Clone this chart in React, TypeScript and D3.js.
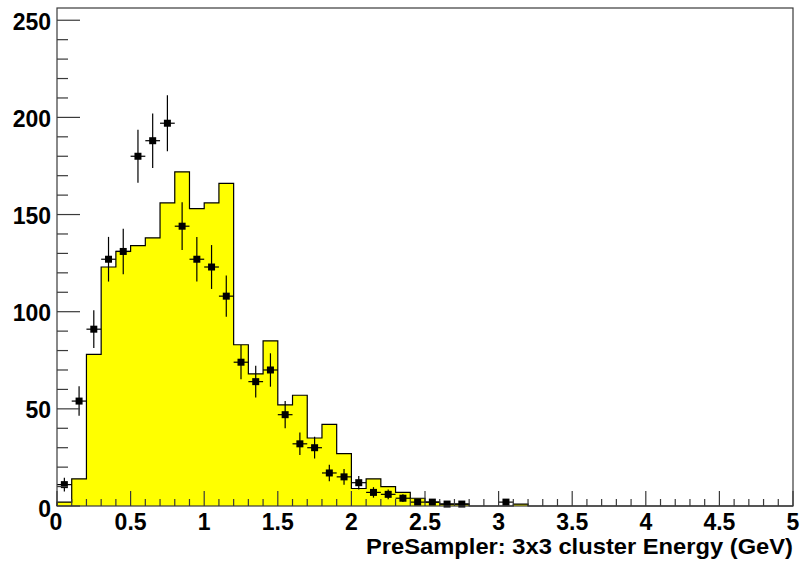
import React from "react";
import * as d3 from "d3";

const binEdgesStart = 0;
const binWidth = 0.1;
// Histogram (yellow) bin contents, bins of 0.1 GeV starting at 0
const histValues = [
  2, 14, 78, 123, 131, 134, 138, 156, 172, 153,
  156, 166, 83, 68, 85, 52, 57, 35, 42, 27,
  9, 14, 10, 7, 4, 2, 1, 1, 0, 0,
  0, 1, 0, 0, 0, 0, 0, 0, 0, 0,
  0, 0, 0, 0, 0, 0, 0, 0, 0, 0,
];
// Data points (black markers) at bin centres
const pointX = [
  0.05, 0.15, 0.25, 0.35, 0.45, 0.55, 0.65, 0.75, 0.85, 0.95,
  1.05, 1.15, 1.25, 1.35, 1.45, 1.55, 1.65, 1.75, 1.85, 1.95,
  2.05, 2.15, 2.25, 2.35, 2.45, 2.55, 2.65, 2.75, 3.05,
];
const pointY = [
  11, 54, 91, 127, 131, 180, 188, 197, 144, 127,
  123, 108, 74, 64, 70, 47, 32, 30, 17, 15,
  12, 7, 6, 4, 2, 2, 1, 1, 2,
];
const pointErr = [
  3.6, 7.6, 9.7, 11.5, 11.7, 13.7, 14, 14.4, 12.3, 11.5,
  11.3, 10.6, 8.8, 8.2, 8.6, 7, 5.8, 5.6, 4.2, 4,
  3.5, 2.7, 2.5, 2, 1.4, 1.4, 1, 1, 1.4,
];
const xTicks = [0, 0.5, 1, 1.5, 2, 2.5, 3, 3.5, 4, 4.5, 5];
const xTickLabels = ["0", "0.5", "1", "1.5", "2", "2.5", "3", "3.5", "4", "4.5", "5"];
const yTicks = [0, 50, 100, 150, 200, 250];
const yTickLabels = ["0", "50", "100", "150", "200", "250"];
const xTitle = "PreSampler: 3x3 cluster Energy (GeV)";

const W = 802;
const H = 562;
const L = 57, R = 793, T = 8, B = 506;
const FONT = "'Liberation Sans', Arial, Helvetica, sans-serif";

export default function App() {
  const x = d3.scaleLinear().domain([0, 5]).range([L, R]);
  const y = d3.scaleLinear().domain([0, 256.3]).range([B, T]);

  const pts: [number, number][] = [];
  pts.push([x(binEdgesStart), y(0)]);
  histValues.forEach((v, i) => {
    const x0 = binEdgesStart + i * binWidth;
    pts.push([x(x0), y(v)]);
    pts.push([x(x0 + binWidth), y(v)]);
  });
  pts.push([x(binEdgesStart + histValues.length * binWidth), y(0)]);
  const line = d3.line();
  const outline = line(pts) as string;

  const minorX = d3.range(0, 51).map((i) => i * 0.1);
  const minorY = d3.range(0, 26).map((i) => i * 10);
  const axisColor = "#3a3a3a";
  const ms = 7;

  return (
    <svg
      width={W}
      height={H}
      style={{ position: "absolute", left: 0, top: 0, background: "#fff" }}
    >
      <rect x={0} y={0} width={W} height={H} fill="#fff" />
      <path d={outline + "Z"} fill="#ffff00" stroke="none" />
      <path d={outline} fill="none" stroke="#000" strokeWidth={1.2} />

      {pointX.map((px, i) => {
        const cx = x(px);
        const cy = y(pointY[i]);
        const e = pointErr[i];
        return (
          <g key={i}>
            <line x1={x(px - binWidth / 2)} x2={x(px + binWidth / 2)} y1={cy} y2={cy} stroke="#000" strokeWidth={1.2} />
            <line x1={cx} x2={cx} y1={y(pointY[i] + e)} y2={y(Math.max(0, pointY[i] - e))} stroke="#000" strokeWidth={1.2} />
            <rect x={cx - ms / 2} y={cy - ms / 2} width={ms} height={ms} fill="#000" />
          </g>
        );
      })}

      <rect x={L} y={T} width={R - L} height={B - T} fill="none" stroke={axisColor} strokeWidth={1.2} />

      {minorX.map((t, i) => {
        const major = i % 5 === 0;
        return (
          <line key={"xt" + i} x1={x(t)} x2={x(t)} y1={B} y2={B - (major ? 15 : 7)} stroke={axisColor} strokeWidth={1.2} />
        );
      })}
      {minorY.map((t, i) => {
        const major = i % 5 === 0;
        return (
          <line key={"yt" + i} x1={L} x2={L + (major ? 23 : 11)} y1={y(t)} y2={y(t)} stroke={axisColor} strokeWidth={1.2} />
        );
      })}

      {xTicks.map((t, i) => (
        <text
          key={"xl" + i}
          x={x(t) - (i === 0 ? 1 : 0)}
          y={530}
          textAnchor="middle"
          fontFamily={FONT}
          fontWeight="bold"
          fontSize={23}
          fill="#000"
        >
          {xTickLabels[i]}
        </text>
      ))}
      {yTicks.map((t, i) => (
        <text
          key={"yl" + i}
          x={51}
          y={y(t) + (i === 0 ? 11 : 9.5)}
          textAnchor="end"
          fontFamily={FONT}
          fontWeight="bold"
          fontSize={23}
          fill="#000"
        >
          {yTickLabels[i]}
        </text>
      ))}

      <text
        x={R}
        y={553.5}
        textAnchor="end"
        fontFamily={FONT}
        fontWeight="bold"
        fontSize={21.5}
        textLength={427}
        lengthAdjust="spacingAndGlyphs"
        fill="#000"
      >
        {xTitle}
      </text>
    </svg>
  );
}
